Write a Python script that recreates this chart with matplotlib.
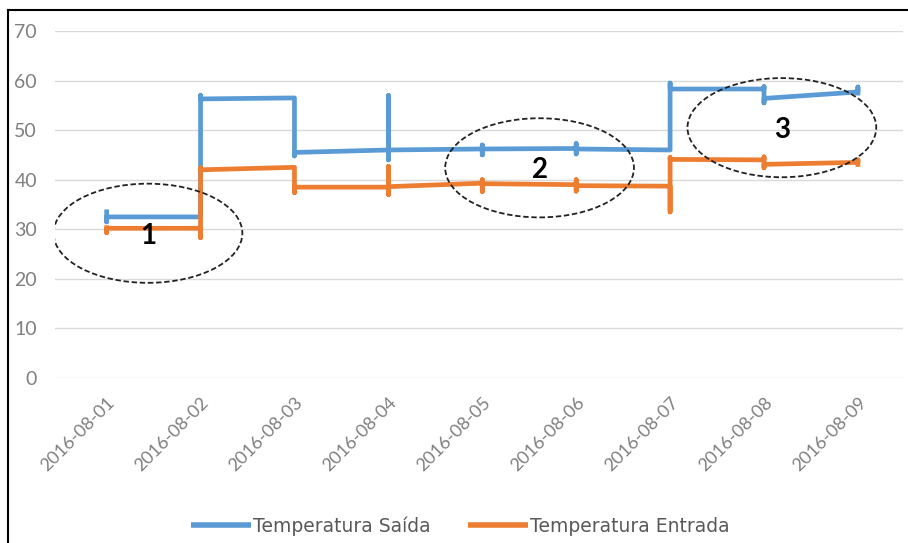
import matplotlib
matplotlib.use("Agg")
import matplotlib.pyplot as plt
from matplotlib.lines import Line2D
from matplotlib.patches import Ellipse

W, H = 908, 543

dates = ["2016-08-01", "2016-08-02", "2016-08-03", "2016-08-04", "2016-08-05",
         "2016-08-06", "2016-08-07", "2016-08-08", "2016-08-09"]

# readings of each day; Excel puts every reading of one day at the same x
saida = [
    [34.0, 31.5, 32.5],
    [32.5, 57.0, 56.3],
    [56.5, 44.8, 45.5],
    [46.0, 57.0, 44.0, 46.0],
    [46.2, 47.0, 45.0, 46.2],
    [46.3, 47.3, 45.2, 46.2],
    [46.0, 59.5, 58.3],
    [58.3, 58.8, 55.5, 56.4],
    [57.7, 58.7, 57.0],
]
entrada = [
    [30.8, 29.3, 30.2],
    [30.2, 28.3, 42.4, 42.0],
    [42.5, 37.4, 38.5],
    [38.5, 42.7, 37.0, 38.6],
    [39.3, 40.0, 37.6, 39.2],
    [39.0, 40.0, 37.7, 38.8],
    [38.7, 33.5, 44.5, 44.1],
    [44.0, 44.6, 42.4, 43.1],
    [43.5, 44.0, 42.6],
]
series_names = ["Temperatura Saída", "Temperatura Entrada"]
colors = ["#5B9BD5", "#ED7D31"]

# circled regions: label, centre day, centre value
regions = [("1", 0.44, 29.2), ("2", 4.61, 42.4), ("3", 7.19, 50.5)]


def flatten(per_day):
    xs, ys = [], []
    for i, vals in enumerate(per_day):
        xs += [i] * len(vals)
        ys += vals
    return xs, ys


fig = plt.figure(figsize=(W / 100, H / 100), dpi=100)
ax = fig.add_axes([55 / W, (H - 378) / H, (903 - 55) / W, (378 - 31) / H])

for data, name, c in zip([saida, entrada], series_names, colors):
    xs, ys = flatten(data)
    ax.plot(xs, ys, color=c, lw=3.4, label=name,
            solid_capstyle="butt", solid_joinstyle="round")

for label, cx, cy in regions:
    ax.add_patch(Ellipse((cx, cy), 2.01, 20.0, fill=False, ec="#222222",
                         lw=1.3, ls=(0, (3, 1.5)), zorder=5))
    ax.text(cx, cy - 0.5, label, ha="center", va="center", fontsize=20,
            fontweight="bold", family="Lato", color="black", zorder=6)

ax.set_xlim(-0.55, 8.48)
ax.set_ylim(0, 70)
ax.set_yticks(range(0, 80, 10))
ax.set_xticks(range(len(dates)))
ax.set_xticklabels(dates, rotation=45, ha="right", va="top",
                   rotation_mode="anchor")
ax.grid(axis="y", color="#d9d9d9", lw=1)
ax.set_axisbelow(True)
for s in ax.spines.values():
    s.set_visible(False)
ax.tick_params(axis="y", length=0, pad=13, labelsize=14, labelcolor="#7f7f7f")
ax.tick_params(axis="x", length=0, pad=12, labelsize=13, labelcolor="#7f7f7f")
for t in ax.get_xticklabels() + ax.get_yticklabels():
    t.set_family("Lato")
for t in ax.get_xticklabels():
    t.set_x(t.get_position()[0] - 0.04)

leg = fig.legend(loc="center", bbox_to_anchor=(460 / W, 1 - 526 / H), ncol=2,
                 frameon=False, handlelength=3.2, handletextpad=0.1,
                 columnspacing=2.0, prop={"family": "DejaVu Sans", "size": 13.5})
for t in leg.get_texts():
    t.set_color("#595959")
for h in leg.get_lines():
    h.set_linewidth(4)

# outer frame (left and top edges visible in the screenshot)
fig.add_artist(Line2D([8 / W, 1], [1 - 10 / H] * 2, transform=fig.transFigure,
                      color="black", lw=1.5))
fig.add_artist(Line2D([8 / W] * 2, [0, 1 - 10 / H], transform=fig.transFigure,
                      color="black", lw=1.5))

fig.savefig("out.png", dpi=100)
